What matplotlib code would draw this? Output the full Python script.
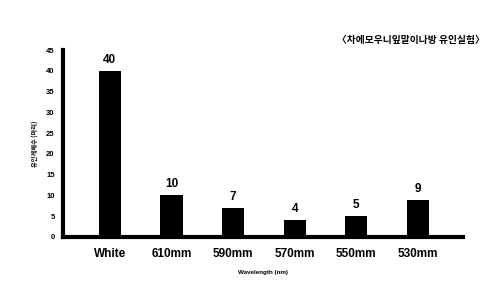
import matplotlib.pyplot as plt

plt.rcParams['font.family'] = ['Liberation Sans', 'Noto Sans CJK KR', 'DejaVu Sans']

categories = ['White', '610mm', '590mm', '570mm', '550mm', '530mm']
counts = [40, 10, 7, 4, 5, 9]
yticks = [0, 5, 10, 15, 20, 25, 30, 35, 40, 45]

fig = plt.figure(figsize=(5.02, 2.91), dpi=100)
ax = fig.add_axes([0.1255, 0.1856, 0.7965, 0.642])

x = range(len(categories))
ax.bar(x, counts, width=0.36, color='black')
for i, v in zip(x, counts):
	ax.text(i, v + 1.2, str(v), ha='center', va='bottom', fontsize=8.5, fontweight='bold')

ax.set_xlim(-0.76, 5.73)
ax.set_ylim(0, 45)
ax.set_yticks(yticks)
ax.set_yticklabels([str(t) for t in yticks], fontsize=5.5, fontweight='bold')
ax.set_xticks(list(x))
ax.set_xticklabels(categories, fontsize=8.5, fontweight='bold')
ax.tick_params(axis='x', length=0, pad=8)
ax.tick_params(axis='y', length=0, pad=6)

for s in ['top', 'right']:
	ax.spines[s].set_visible(False)
ax.spines['left'].set_linewidth(3)
ax.spines['bottom'].set_linewidth(3)

ax.set_xlabel('Wavelength (nm)', fontsize=4.5, fontweight='bold', labelpad=7)
ax.set_ylabel('유인개체수 (마리)', fontsize=4.5, fontweight='bold', labelpad=5,
	family=['Noto Sans CJK KR', 'DejaVu Sans'])

fig.text(0.966, 0.862, '〈차에모우니잎말이나방 유인실험〉', ha='right', va='center',
	fontsize=7, fontweight='bold', family=['Noto Sans CJK KR', 'DejaVu Sans'])

fig.savefig('out.png', dpi=100)
